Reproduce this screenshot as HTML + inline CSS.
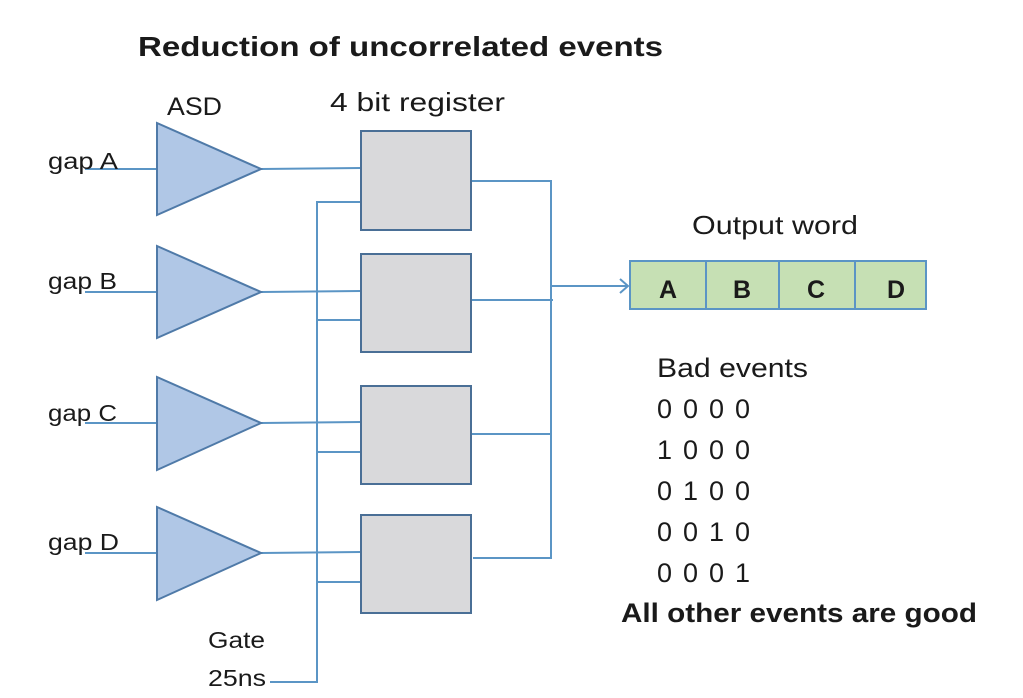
<!DOCTYPE html>
<html><head><style>
html,body{margin:0;padding:0;background:#fff;}
svg{display:block;}
text{font-family:"Liberation Sans",sans-serif;fill:#1a1a1a;}
</style></head><body>
<svg width="1023" height="698" viewBox="0 0 1023 698" xmlns="http://www.w3.org/2000/svg">
<text x="138" y="56" font-size="28" font-weight="bold" textLength="525" lengthAdjust="spacingAndGlyphs">Reduction of uncorrelated events</text>
<text x="167" y="115" font-size="25" textLength="55" lengthAdjust="spacingAndGlyphs">ASD</text>
<text x="330" y="111" font-size="26" textLength="175" lengthAdjust="spacingAndGlyphs">4 bit register</text>
<g stroke="#5b95c5" stroke-width="2" fill="none">
<line x1="85" y1="169" x2="157" y2="169"/>
<line x1="85" y1="292" x2="157" y2="292"/>
<line x1="85" y1="423" x2="157" y2="423"/>
<line x1="85" y1="553" x2="157" y2="553"/>
<line x1="261" y1="169" x2="361" y2="168"/>
<line x1="261" y1="292" x2="361" y2="291"/>
<line x1="261" y1="423" x2="361" y2="422"/>
<line x1="261" y1="553" x2="361" y2="552"/>
<polyline points="270,682 317,682 317,202 361,202"/>
<line x1="317" y1="320" x2="361" y2="320"/>
<line x1="317" y1="452" x2="361" y2="452"/>
<line x1="317" y1="582" x2="361" y2="582"/>
<polyline points="471,181 551,181 551,558 473,558"/>
<line x1="471" y1="300" x2="553" y2="300"/>
<line x1="471" y1="434" x2="551" y2="434"/>
<line x1="551" y1="286" x2="628" y2="286"/>
<polyline points="620,279 628,286 620,293"/>
</g>
<g fill="#b0c7e6" stroke="#4f7aa8" stroke-width="2">
<polygon points="157,123 261,169 157,215"/>
<polygon points="157,246 261,292 157,338"/>
<polygon points="157,377 261,423 157,470"/>
<polygon points="157,507 261,553 157,600"/>
</g>
<g fill="#d9d9db" stroke="#4a6f96" stroke-width="2">
<rect x="361" y="131" width="110" height="99"/>
<rect x="361" y="254" width="110" height="98"/>
<rect x="361" y="386" width="110" height="98"/>
<rect x="361" y="515" width="110" height="98"/>
</g>
<g font-size="23">
<text x="48" y="169" textLength="70" lengthAdjust="spacingAndGlyphs">gap A</text>
<text x="48" y="289" textLength="69" lengthAdjust="spacingAndGlyphs">gap B</text>
<text x="48" y="421" textLength="69" lengthAdjust="spacingAndGlyphs">gap C</text>
<text x="48" y="550" textLength="71" lengthAdjust="spacingAndGlyphs">gap D</text>
<text x="208" y="648" textLength="57" lengthAdjust="spacingAndGlyphs">Gate</text>
<text x="208" y="686" textLength="58" lengthAdjust="spacingAndGlyphs">25ns</text>
</g>
<text x="692" y="234" font-size="26" textLength="166" lengthAdjust="spacingAndGlyphs">Output word</text>
<g stroke="#5b95c5" stroke-width="2" fill="#c6e0b4">
<rect x="630" y="261" width="296" height="48"/>
<line x1="706" y1="261" x2="706" y2="309"/>
<line x1="779" y1="261" x2="779" y2="309"/>
<line x1="855" y1="261" x2="855" y2="309"/>
</g>
<g font-size="25" font-weight="bold" text-anchor="middle">
<text x="668" y="298">A</text>
<text x="742" y="298">B</text>
<text x="816" y="298">C</text>
<text x="896" y="298">D</text>
</g>
<g font-size="27">
<text x="657" y="377" textLength="151" lengthAdjust="spacingAndGlyphs">Bad events</text>
<text x="657" y="418" textLength="93" lengthAdjust="spacing">0 0 0 0</text>
<text x="657" y="459" textLength="93" lengthAdjust="spacing">1 0 0 0</text>
<text x="657" y="500" textLength="93" lengthAdjust="spacing">0 1 0 0</text>
<text x="657" y="541" textLength="93" lengthAdjust="spacing">0 0 1 0</text>
<text x="657" y="582" textLength="93" lengthAdjust="spacing">0 0 0 1</text>
</g>
<text x="621" y="622" font-size="27" font-weight="bold" textLength="356" lengthAdjust="spacingAndGlyphs">All other events are good</text>
</svg>
</body></html>
